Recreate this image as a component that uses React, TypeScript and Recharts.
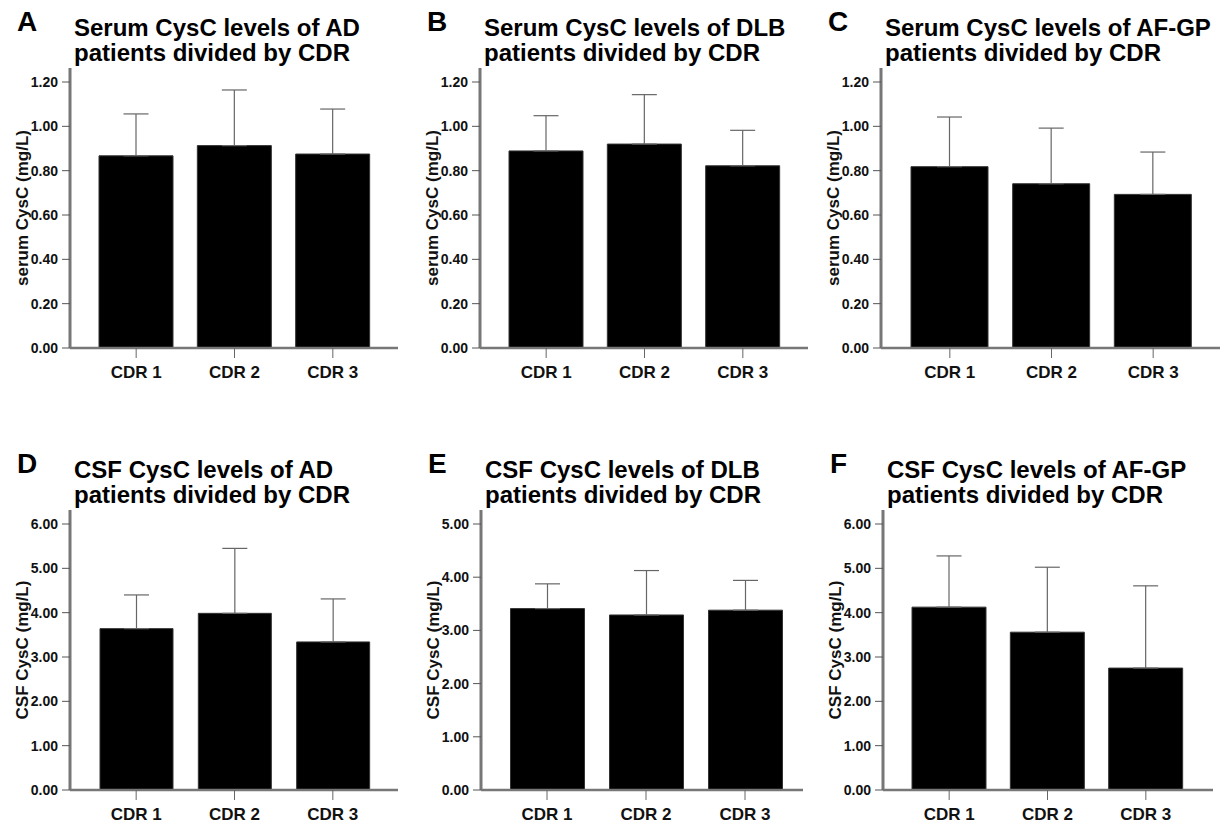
import { Bar, BarChart, ErrorBar, XAxis, YAxis, Label } from "recharts";

const categories = ["CDR 1", "CDR 2", "CDR 3"];

// means and upper error-bar ends
const serumADMean = [0.867, 0.913, 0.875];
const serumADTop = [1.056, 1.164, 1.078];
const serumDLBMean = [0.889, 0.92, 0.822];
const serumDLBTop = [1.048, 1.143, 0.982];
const serumAFGPMean = [0.818, 0.741, 0.693];
const serumAFGPTop = [1.042, 0.992, 0.884];
const csfADMean = [3.64, 3.985, 3.34];
const csfADTop = [4.4, 5.45, 4.31];
const csfDLBMean = [3.41, 3.29, 3.38];
const csfDLBTop = [3.875, 4.125, 3.94];
const csfAFGPMean = [4.125, 3.56, 2.75];
const csfAFGPTop = [5.28, 5.025, 4.605];

const serumTicks = [0, 0.2, 0.4, 0.6, 0.8, 1.0, 1.2];
const csfTicks6 = [0, 1, 2, 3, 4, 5, 6];
const csfTicks5 = [0, 1, 2, 3, 4, 5];

const font = "'Liberation Sans', Arial, sans-serif";

type PanelProps = {
  letter: string;
  title: string[];
  yLabel: string;
  means: number[];
  tops: number[];
  ticks: number[];
  axisX: number;
  top: number;
  plotW: number;
  padL: number;
  padR: number;
  barSize: number;
};

function Panel(p: PanelProps) {
  const data = categories.map((c, i) => ({ name: c, v: p.means[i], err: [0, p.tops[i] - p.means[i]] }));
  const maxTick = p.ticks[p.ticks.length - 1];
  const left = p.axisX - 70;
  return (
    <>
      <div style={{ position: "absolute", left: left + 17, top: p.top + 8, fontSize: 28, fontWeight: 700, lineHeight: "28px" }}>
        {p.letter}
      </div>
      <div style={{ position: "absolute", left: p.axisX + 4, top: p.top + 16, fontSize: 24, fontWeight: 700, lineHeight: "24.5px", whiteSpace: "nowrap" }}>
        {p.title.map((t) => (
          <div key={t}>{t}</div>
        ))}
      </div>
      <div style={{ position: "absolute", left, top: p.top }}>
        <BarChart width={70 + p.plotW + 4} height={68 + 280 + 45} data={data} margin={{ top: 68, right: 4, left: 0, bottom: 0 }}>
          <XAxis
            dataKey="name"
            height={45}
            padding={{ left: p.padL, right: p.padR }}
            axisLine={{ stroke: "#777", strokeWidth: 2.5 }}
            tickLine={{ stroke: "#666" }}
            tickSize={10}
            tickMargin={8}
            tick={{ fill: "#111", fontSize: 17, fontWeight: 700 }}
          />
          <YAxis
            width={70}
            domain={[0, (maxTick * 280) / 266]}
            ticks={p.ticks}
            interval={0}
            allowDataOverflow
            tickFormatter={(v: number) => v.toFixed(2)}
            axisLine={{ stroke: "#777", strokeWidth: 3 }}
            tickLine={{ stroke: "#555" }}
            tickSize={8}
            tickMargin={4}
            tick={{ fill: "#111", fontSize: 14, fontWeight: 700 }}
          >
            <Label
              value={p.yLabel}
              angle={-90}
              position="insideLeft"
              offset={22}
              style={{ textAnchor: "middle", fontSize: 17, fontWeight: 700, fill: "#111" }}
            />
          </YAxis>
          <Bar dataKey="v" fill="#000" stroke="#333" strokeWidth={1} barSize={p.barSize} isAnimationActive={false}>
            <ErrorBar dataKey="err" direction="y" width={12.5} stroke="#666" strokeWidth={1.2} />
          </Bar>
        </BarChart>
      </div>
    </>
  );
}

export default function App() {
  return (
    <div style={{ position: "absolute", left: 0, top: 0, width: 1228, height: 824, background: "#fff", fontFamily: font, color: "#000", overflow: "hidden" }}>
      <Panel letter="A" title={["Serum CysC levels of AD", "patients divided by CDR"]} yLabel="serum CysC (mg/L)"
        means={serumADMean} tops={serumADTop} ticks={serumTicks} axisX={70} top={0} plotW={328} padL={17} padR={16} barSize={74} />
      <Panel letter="B" title={["Serum CysC levels of DLB", "patients divided by CDR"]} yLabel="serum CysC (mg/L)"
        means={serumDLBMean} tops={serumDLBTop} ticks={serumTicks} axisX={480} top={0} plotW={328} padL={17} padR={16} barSize={74} />
      <Panel letter="C" title={["Serum CysC levels of AF-GP", "patients divided by CDR"]} yLabel="serum CysC (mg/L)"
        means={serumAFGPMean} tops={serumAFGPTop} ticks={serumTicks} axisX={881} top={0} plotW={339} padL={18} padR={16} barSize={77} />
      <Panel letter="D" title={["CSF CysC levels of AD", "patients divided by CDR"]} yLabel="CSF CysC (mg/L)"
        means={csfADMean} tops={csfADTop} ticks={csfTicks6} axisX={70} top={442} plotW={328} padL={17} padR={16} barSize={73} />
      <Panel letter="E" title={["CSF CysC levels of DLB", "patients divided by CDR"]} yLabel="CSF CysC (mg/L)"
        means={csfDLBMean} tops={csfDLBTop} ticks={csfTicks5} axisX={481} top={442} plotW={322} padL={16.5} padR={8.5} barSize={74} />
      <Panel letter="F" title={["CSF CysC levels of AF-GP", "patients divided by CDR"]} yLabel="CSF CysC (mg/L)"
        means={csfAFGPMean} tops={csfAFGPTop} ticks={csfTicks6} axisX={883} top={442} plotW={330} padL={17} padR={18} barSize={74} />
    </div>
  );
}
